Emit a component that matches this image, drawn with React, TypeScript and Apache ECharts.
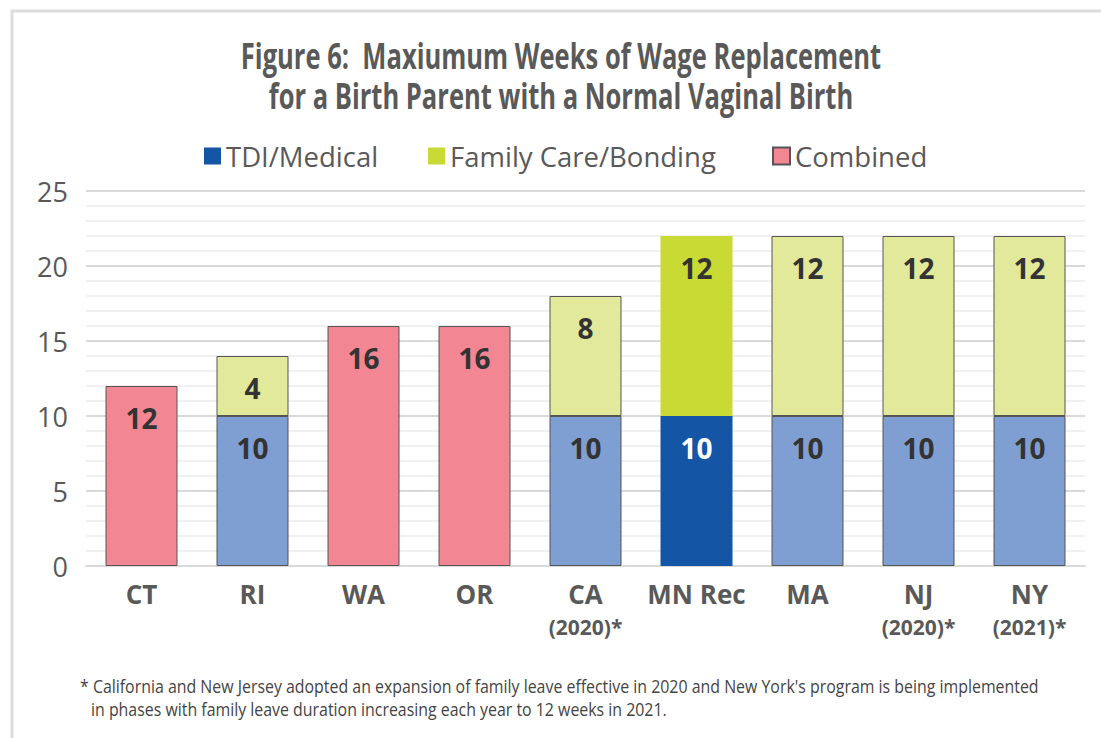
import React, { useEffect, useRef } from "react";
import * as echarts from "echarts";

const categories = ["CT", "RI", "WA", "OR", "CA\n(2020)*", "MN Rec", "MA", "NJ\n(2020)*", "NY\n(2021)*"];
const tdiValues = [null, 10, null, null, 10, 10, 10, 10, 10];
const familyValues = [null, 4, null, null, 8, 12, 12, 12, 12];
const combinedValues = [12, null, 16, 16, null, null, null, null, null];
const highlightCategory = "MN Rec";
const yTicks = { min: 0, max: 25, interval: 5 };
const legendNames = ["TDI/Medical", "Family Care/Bonding", "Combined"];

const titleLines = [
  "Figure 6:  Maxiumum Weeks of Wage Replacement",
  "for a Birth Parent with a Normal Vaginal Birth",
];
const footnoteLines = [
  "* California and New Jersey adopted an expansion of family leave effective in 2020 and New York's program is being implemented",
  "in phases with family leave duration increasing each year to 12 weeks in 2021.",
];

const TDI_DARK = "#1555A5";
const TDI_LIGHT = "#7F9ED2";
const FAM_DARK = "#C9DA34";
const FAM_LIGHT = "#E2E99B";
const COMBINED = "#F28793";
const BORDER = "#555555";
const TEXT = "#595959";
const SANS = "'Open Sans', 'Noto Sans', sans-serif";

export default function App() {
  const ref = useRef<HTMLDivElement>(null);
  useEffect(() => {
    if (!ref.current) return;
    const chart = echarts.init(ref.current, undefined, { renderer: "svg" });

    const labelBase = {
      show: true,
      position: "insideTop",
      distance: 18,
      fontFamily: SANS,
      fontWeight: "bold",
      fontSize: 28,
      color: "#333333",
    };

    const mkData = (vals: (number | null)[], light: string, dark: string, hiLabelColor: string) =>
      vals.map((v, i) => {
        if (v === null) return "-";
        const hi = categories[i] === highlightCategory;
        return hi
          ? { value: v, itemStyle: { color: dark, borderWidth: 0 }, label: { color: hiLabelColor } }
          : { value: v, itemStyle: { color: light, borderColor: BORDER, borderWidth: 1 } };
      });

    const legendLefts = [199, 423, 767];

    chart.setOption({
      animation: false,
      backgroundColor: "#ffffff",
      grid: { left: 86, right: 16, top: 191, bottom: 172, containLabel: false },
      legend: legendNames.map((n, i) => ({
        top: 137,
        left: legendLefts[i],
        itemWidth: 17,
        itemHeight: 17,
        icon: "rect",
        textStyle: { fontFamily: SANS, fontSize: 27.5, color: TEXT, padding: [0, 0, 0, 0] },
        data: [n],
      })),
      xAxis: {
        type: "category",
        data: categories,
        axisLine: { show: true, lineStyle: { color: "#d9d9d9", width: 2 } },
        axisTick: { show: false },
        axisLabel: {
          margin: 12,
          formatter: (v: string) => {
            const parts = v.split("\n");
            return parts.length > 1 ? `{a|${parts[0]}}\n{b|${parts[1]}}` : `{a|${parts[0]}}`;
          },
          rich: {
            a: { fontFamily: SANS, fontWeight: "bold", fontSize: 26, color: TEXT, lineHeight: 32 },
            b: { fontFamily: SANS, fontWeight: "bold", fontSize: 21, color: TEXT, lineHeight: 34 },
          },
        },
      },
      yAxis: {
        type: "value",
        min: yTicks.min,
        max: yTicks.max,
        interval: yTicks.interval,
        axisLine: { show: false },
        axisTick: { show: false },
        axisLabel: { margin: 18, fontFamily: SANS, fontSize: 27, color: TEXT },
        splitLine: { show: true, lineStyle: { color: "#d9d9d9", width: 2 } },
        minorTick: { show: false, splitNumber: 5 },
        minorSplitLine: { show: true, lineStyle: { color: "#f0f0f0", width: 2 } },
      },
      series: [
        {
          name: legendNames[0],
          type: "bar",
          stack: "total",
          barWidth: 72,
          itemStyle: { color: TDI_DARK },
          label: labelBase,
          data: mkData(tdiValues, TDI_LIGHT, TDI_DARK, "#ffffff"),
        },
        {
          name: legendNames[1],
          type: "bar",
          stack: "total",
          barWidth: 72,
          itemStyle: { color: FAM_DARK },
          label: labelBase,
          data: mkData(familyValues, FAM_LIGHT, FAM_DARK, "#333333"),
        },
        {
          name: legendNames[2],
          type: "bar",
          stack: "total",
          barWidth: 72,
          itemStyle: { color: COMBINED, borderColor: BORDER, borderWidth: 1 },
          label: labelBase,
          data: combinedValues.map((v) => (v === null ? "-" : v)),
        },
      ],
      graphic: [
        {
          type: "polyline",
          shape: { points: [[12, 738], [12, 11], [1101, 11]] },
          style: { stroke: "#dddddd", lineWidth: 3, fill: "none" },
          silent: true,
        },
        ...titleLines.map((t, i) => ({
          type: "text",
          x: 561,
          y: 55 + i * 40,
          scaleX: 0.71,
          style: {
            text: t,
            fontFamily: SANS,
            fontWeight: "bold",
            fontSize: 36,
            fill: TEXT,
            textAlign: "center",
            textVerticalAlign: "middle",
          },
        })),
        ...footnoteLines.map((t, i) => ({
          type: "text",
          x: i === 0 ? 80 : 91,
          y: 685 + i * 23,
          scaleX: 0.837,
          style: {
            text: t,
            fontFamily: SANS,
            fontSize: 19,
            fill: "#444444",
            textAlign: "left",
            textVerticalAlign: "middle",
          },
        })),
      ],
    });
    return () => chart.dispose();
  }, []);

  return (
    <div
      ref={ref}
      style={{ position: "fixed", left: 0, top: 0, width: 1101, height: 738, background: "#fff" }}
    />
  );
}
